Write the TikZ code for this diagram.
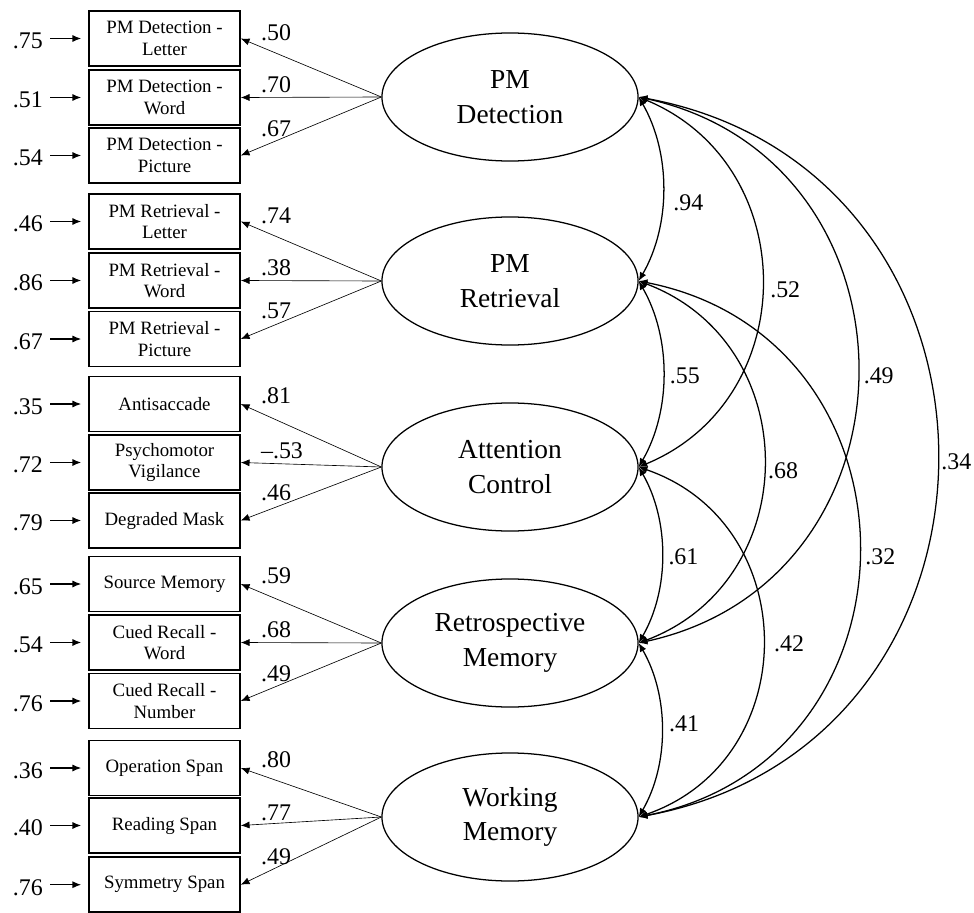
\documentclass[tikz,border=0pt]{standalone}
\usepackage{fontspec}
\setmainfont{Liberation Serif}
\usetikzlibrary{arrows.meta, shapes.geometric}

\tikzset{
  ind/.style={draw, line width=1.1pt, minimum width=3.775cm, minimum height=1.375cm,
    inner sep=0pt, align=center, font=\fontsize{13.4}{15.4}\selectfont},
  fac/.style={draw, ellipse, line width=0.9pt, minimum width=6.4cm, minimum height=3.2cm,
    inner sep=0pt, align=center, font=\fontsize{19.5}{24.8}\selectfont},
  num/.style={inner sep=0pt, font=\fontsize{17}{20}\selectfont},
  loadarr/.style={->, line width=0.45pt},
  errarr/.style={->, line width=0.8pt, shorten <=5pt, shorten >=5pt},
  covarr/.style={<->, line width=0.9pt},
}

\begin{document}
\begin{tikzpicture}[x=0.025cm, y=-0.025cm, >={Latex[length=6.2pt,width=5pt]}]
    \useasboundingbox (0,0) rectangle (974,913);

    % latente Faktoren
    \node[fac] (e1) at (510, 97)  {PM\\Detection};
    \node[fac] (e2) at (510, 281) {PM\\Retrieval};
    \node[fac] (e3) at (510, 467) {Attention\\Control};
    \node[fac] (e4) at (510, 643) {Retrospective\\Memory};
    \node[fac] (e5) at (510, 817) {Working\\Memory};

    % manifeste Indikatoren
    \node[ind] (b1)  at (164.5, 38.5)  {PM Detection -\\Letter};
    \node[ind] (b2)  at (164.5, 97.5)  {PM Detection -\\Word};
    \node[ind] (b3)  at (164.5, 155.5) {PM Detection -\\Picture};
    \node[ind] (b4)  at (164.5, 221.5) {PM Retrieval -\\Letter};
    \node[ind] (b5)  at (164.5, 280.5) {PM Retrieval -\\Word};
    \node[ind] (b6)  at (164.5, 339)   {PM Retrieval -\\Picture};
    \node[ind] (b7)  at (164.5, 404)   {Antisaccade};
    \node[ind] (b8)  at (164.5, 462.5) {Psychomotor\\Vigilance};
    \node[ind] (b9)  at (164.5, 520.5) {Degraded Mask};
    \node[ind] (b10) at (164.5, 584)   {Source Memory};
    \node[ind] (b11) at (164.5, 642.5) {Cued Recall -\\Word};
    \node[ind] (b12) at (164.5, 701)   {Cued Recall -\\Number};
    \node[ind] (b13) at (164.5, 768)   {Operation Span};
    \node[ind] (b14) at (164.5, 825.5) {Reading Span};
    \node[ind] (b15) at (164.5, 884.7) {Symmetry Span};

    % Fehlervarianzen
    \node[num, anchor=east] (u1)  at (43, 41.2)  {.75};
    \node[num, anchor=east] (u2)  at (43, 100.2) {.51};
    \node[num, anchor=east] (u3)  at (43, 158.2) {.54};
    \node[num, anchor=east] (u4)  at (43, 224.2) {.46};
    \node[num, anchor=east] (u5)  at (43, 283.2) {.86};
    \node[num, anchor=east] (u6)  at (43, 341.7) {.67};
    \node[num, anchor=east] (u7)  at (43, 406.7) {.35};
    \node[num, anchor=east] (u8)  at (43, 465.2) {.72};
    \node[num, anchor=east] (u9)  at (43, 523.2) {.79};
    \node[num, anchor=east] (u10) at (43, 586.7) {.65};
    \node[num, anchor=east] (u11) at (43, 645.2) {.54};
    \node[num, anchor=east] (u12) at (43, 703.7) {.76};
    \node[num, anchor=east] (u13) at (43, 770.7) {.36};
    \node[num, anchor=east] (u14) at (43, 828.2) {.40};
    \node[num, anchor=east] (u15) at (43, 887.4) {.76};
    \foreach \i in {1,...,15}
        \draw[errarr] (u\i.east |- b\i.west) -- (b\i.west);

    % Ladungen
    \draw[loadarr] (e1.west) -- (b1.east) node[num, anchor=base west, xshift=14.2pt, yshift=-1.4pt] {.50};
    \draw[loadarr] (e1.west) -- (b2.east) node[num, anchor=base west, xshift=14.2pt, yshift=3.5pt] {.70};
    \draw[loadarr] (e1.west) -- (b3.east) node[num, anchor=base west, xshift=14.2pt, yshift=13.5pt] {.67};
    \draw[loadarr] (e2.west) -- (b4.east) node[num, anchor=base west, xshift=14.2pt, yshift=-1.4pt] {.74};
    \draw[loadarr] (e2.west) -- (b5.east) node[num, anchor=base west, xshift=14.2pt, yshift=3.5pt] {.38};
    \draw[loadarr] (e2.west) -- (b6.east) node[num, anchor=base west, xshift=14.2pt, yshift=14.5pt] {.57};
    \draw[loadarr] (e3.west) -- (b7.east) node[num, anchor=base west, xshift=14.2pt, yshift=0.7pt] {.81};
    \draw[loadarr] (e3.west) -- (b8.east) node[num, anchor=base west, xshift=14.2pt, yshift=3.2pt] {--.53};
    \draw[loadarr] (e3.west) -- (b9.east) node[num, anchor=base west, xshift=14.2pt, yshift=14.2pt] {.46};
    \draw[loadarr] (e4.west) -- (b10.east) node[num, anchor=base west, xshift=14.2pt, yshift=0.7pt] {.59};
    \draw[loadarr] (e4.west) -- (b11.east) node[num, anchor=base west, xshift=14.2pt, yshift=3.5pt] {.68};
    \draw[loadarr] (e4.west) -- (b12.east) node[num, anchor=base west, xshift=14.2pt, yshift=14.2pt] {.49};
    \draw[loadarr] (e5.west) -- (b13.east) node[num, anchor=base west, xshift=14.2pt, yshift=0.7pt] {.80};
    \draw[loadarr] (e5.west) -- (b14.east) node[num, anchor=base west, xshift=14.2pt, yshift=3.5pt] {.77};
    \draw[loadarr] (e5.west) -- (b15.east) node[num, anchor=base west, xshift=14.2pt, yshift=14.2pt] {.49};

    % Korrelationen
    \draw[covarr] (e1.east) to[bend left=30, looseness=0.9] node[num, midway, anchor=west, xshift=7pt, yshift=-9.9pt] {.94} (e2.east);
    \draw[covarr] (e2.east) to[bend left=30, looseness=0.9] node[num, midway, anchor=west, xshift=4.3pt, yshift=-1.4pt] {.55} (e3.east);
    \draw[covarr] (e3.east) to[bend left=30, looseness=0.9] node[num, midway, anchor=west, xshift=4.3pt, yshift=-1.4pt] {.61} (e4.east);
    \draw[covarr] (e4.east) to[bend left=30, looseness=0.9] node[num, midway, anchor=west, xshift=5pt, yshift=4.3pt] {.41} (e5.east);
    \draw[covarr] (e1.east) to[bend left=67.5, looseness=1.23] node[num, midway, anchor=west, xshift=5.7pt, yshift=-5.7pt] {.52} (e3.east);
    \draw[covarr] (e2.east) to[bend left=69.4, looseness=1.26] node[num, midway, anchor=west, xshift=2.8pt, yshift=-6.4pt] {.68} (e4.east);
    \draw[covarr] (e3.east) to[bend left=71, looseness=1.28] node[num, midway, anchor=west, xshift=7.8pt, yshift=-1.4pt] {.42} (e5.east);
    \draw[covarr] (e1.east) to[bend left=77.7, looseness=1.40] node[num, midway, anchor=west, xshift=4.3pt, yshift=-4.3pt] {.49} (e4.east);
    \draw[covarr] (e2.east) to[bend left=78.9, looseness=1.43] node[num, midway, anchor=west, xshift=4.3pt, yshift=-5.7pt] {.32} (e5.east);
    \draw[covarr] (e1.east) to[bend left=79.5, looseness=1.44] node[num, midway, anchor=west, xshift=2.8pt, yshift=-3.5pt] {.34} (e5.east);

\end{tikzpicture}
\end{document}
